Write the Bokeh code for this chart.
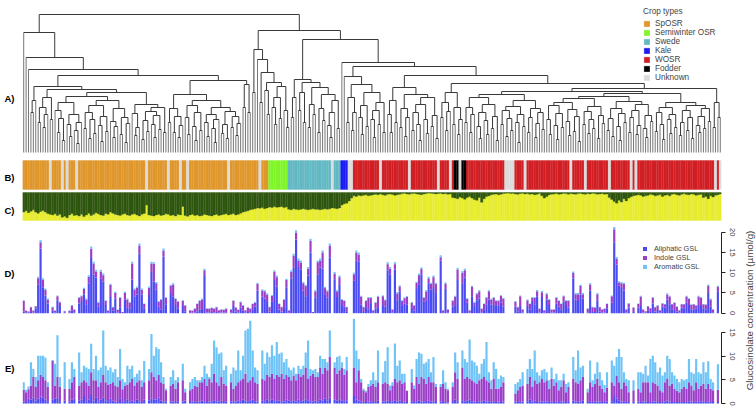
import math
import numpy as np
from bokeh.plotting import figure
from bokeh.models import (Range1d, LinearAxis, FixedTicker, Legend, LegendItem,
                          Label, ColumnDataSource)
from bokeh.layouts import column, row
from bokeh.embed import file_html
from bokeh.resources import INLINE

nan = float("nan")
N_ACC = 290
FONT = "Liberation Sans"

# ---------------- data ----------------
crop_types = ["SpOSR", "Semiwinter OSR", "Swede", "Kale", "WOSR", "Fodder", "Unknown"]
crop_colors = ["#E0972B", "#80F52A", "#63B9C3", "#1C1CF2", "#D11F24", "#000000", "#DCDCDC"]
crop_runs = [("SpOSR", 11), ("Unknown", 1), ("SpOSR", 4), ("Unknown", 1), ("SpOSR", 1),
             ("Unknown", 1), ("SpOSR", 3), ("Unknown", 1), ("SpOSR", 28), ("Unknown", 1),
             ("SpOSR", 8), ("Unknown", 1), ("SpOSR", 4), ("Unknown", 1), ("SpOSR", 2),
             ("Unknown", 1), ("SpOSR", 16), ("Unknown", 1), ("SpOSR", 12), ("Unknown", 1),
             ("SpOSR", 3), ("Semiwinter OSR", 8), ("Swede", 18), ("Unknown", 1), ("Swede", 3),
             ("Kale", 3), ("Unknown", 2), ("WOSR", 11), ("Unknown", 1), ("WOSR", 11),
             ("Unknown", 1), ("WOSR", 11), ("Unknown", 1), ("WOSR", 4), ("Unknown", 1),
             ("WOSR", 1), ("Fodder", 2), ("Unknown", 1), ("Fodder", 2), ("WOSR", 16),
             ("Unknown", 4), ("WOSR", 4), ("Unknown", 1), ("WOSR", 18), ("Unknown", 1),
             ("WOSR", 5), ("Unknown", 1), ("WOSR", 9), ("Unknown", 1), ("WOSR", 8),
             ("Unknown", 1), ("WOSR", 1), ("Unknown", 1), ("WOSR", 32), ("Unknown", 1),
             ("WOSR", 1), ("Unknown", 1)]

# dendrogram: merge height between neighbouring leaves i and i+1 (289 values)
merge_heights = [
    120, 95, 83, 40, 52, 66,
    30, 45, 25, 38, 55, 33,
    63,
    42, 20, 34, 12, 50, 28, 16, 38, 22, 9,
    30, 56, 24, 40, 14, 33, 19, 47, 27, 11,
    36, 21, 52, 31, 15, 26, 44, 18, 35, 10,
    29, 60, 39, 17, 25, 48, 13, 32, 21, 41,
    28, 15, 37, 23, 45, 20,
    77,
    30, 44, 20, 36, 15, 27,
    58,
    35, 18, 47, 26, 12, 40, 22, 52, 30, 16,
    38, 24, 10, 33, 45, 19, 28, 14, 41, 25,
    36, 17, 29,
    72,
    45, 68, 40,
    138,
    60, 103, 93, 50, 80,
    62, 38, 70, 45, 28, 55, 34, 66, 42, 25,
    122,
    35, 55, 73, 42, 60, 30, 70, 25, 48, 38,
    65, 20, 44, 32, 58, 27, 15, 40, 52, 24,
    113,
    90, 76,
    30, 55, 22, 40, 68, 35, 18, 47, 26, 60, 33, 15, 42, 28, 50, 20,
    86,
    38, 20, 52, 30, 65, 25, 44, 16, 35, 58, 22, 40, 28, 12, 48, 33, 19, 55, 26, 37, 14,
    77,
    35, 50, 22, 41, 60, 28, 45, 18, 33,
    69,
    30, 45, 20, 38, 55, 26, 14, 40, 32, 18, 48, 24, 36, 12, 58, 28, 42, 16, 34, 22,
    46, 30, 10, 38, 26, 52, 20, 35, 44, 15, 29, 40, 23, 61, 33, 18, 47, 27, 13, 39,
    25, 50, 31, 17, 43, 21, 36, 11, 54, 28, 41, 19, 33, 24, 46, 14, 37, 29, 56, 22,
    34, 16, 44, 26, 12, 39, 30, 51, 20, 35, 42, 18, 27, 48, 24, 15, 37, 31, 59, 21,
    40, 28, 13, 45, 33, 19, 38, 25, 50, 17, 30, 42, 22, 35, 14, 47, 27, 20, 36, 24,
    44, 31,
    64,
    25, 50, 35,
]

# structure (C): share of the yellow group
q_yellow = [
    0.30, 0.35, 0.28, 0.33, 0.38, 0.30, 0.26, 0.32, 0.36, 0.30, 0.25,
    0.22, 0.20, 0.24, 0.18, 0.22, 0.12, 0.15, 0.10, 0.20, 0.25, 0.18,
    0.20, 0.16, 0.22, 0.14, 0.20, 0.26, 0.18, 0.22, 0.28, 0.24, 0.20, 0.18, 0.25, 0.22, 0.30, 0.26, 0.22, 0.20, 0.18,
    0.22, 0.25, 0.20, 0.18, 0.22, 0.24, 0.20, 0.16, 0.22, 0.25, 0.55, 0.20, 0.18, 0.16, 0.20, 0.22, 0.18, 0.20, 0.24, 0.22,
    0.18, 0.20, 0.16, 0.22, 0.20, 0.50, 0.18, 0.15, 0.20, 0.22, 0.18, 0.20, 0.16, 0.18, 0.22, 0.20, 0.18, 0.16, 0.20, 0.22,
    0.18, 0.20, 0.22, 0.24, 0.20, 0.22, 0.25, 0.20, 0.22, 0.26, 0.30, 0.32, 0.35, 0.38, 0.40, 0.42, 0.45, 0.44, 0.46, 0.42, 0.45,
    0.48, 0.46, 0.50, 0.47, 0.48, 0.50, 0.46, 0.48,
    0.40, 0.38, 0.42, 0.40, 0.38, 0.40, 0.42, 0.40, 0.38, 0.40, 0.42, 0.40, 0.40, 0.38, 0.40, 0.42, 0.40, 0.42, 0.45, 0.44, 0.42, 0.45,
    0.55, 0.60, 0.62, 0.70, 0.80,
    0.88, 0.86, 0.90, 0.88, 0.90, 0.92, 0.88, 0.90, 0.92, 0.94, 0.92, 0.95,
    0.92, 0.90, 0.94, 0.95, 0.93, 0.90, 0.92, 0.94, 0.96, 0.97, 0.95, 0.94, 0.96, 0.97, 0.95, 0.94, 0.92, 0.95, 0.96, 0.98,
    0.97, 0.96, 0.95, 0.96, 0.97, 0.95, 0.96, 0.94,
    0.95, 0.82, 0.80, 0.78, 0.84, 0.80, 0.76, 0.82, 0.86, 0.80, 0.75, 0.72, 0.82, 0.65, 0.78, 0.86, 0.88, 0.92, 0.94, 0.95,
    0.92, 0.94, 0.96,
    0.97, 0.98, 0.96, 0.97, 0.95, 0.94, 0.96, 0.97, 0.95, 0.96, 0.94, 0.95, 0.92, 0.94, 0.96, 0.88, 0.80, 0.86, 0.92, 0.94,
    0.95, 0.96, 0.94, 0.95, 0.97, 0.96, 0.94,
    0.96, 0.95, 0.94, 0.96, 0.97, 0.95, 0.94, 0.96, 0.95, 0.97, 0.96, 0.94, 0.95, 0.96, 0.94, 0.95, 0.82, 0.75, 0.68, 0.62,
    0.72, 0.66, 0.78, 0.70, 0.80, 0.85, 0.88, 0.90,
    0.92, 0.90, 0.86, 0.88, 0.90, 0.94, 0.92, 0.88, 0.90, 0.93, 0.86, 0.90, 0.92, 0.88, 0.94, 0.95, 0.92, 0.90, 0.94, 0.96,
    0.93, 0.92, 0.95, 0.94, 0.90, 0.92, 0.94, 0.82, 0.86, 0.78, 0.88, 0.84, 0.90, 0.92, 0.95,
]

# D) glucosinolates, first tissue (umol/g)
d_aliphatic = [
    0.4, 0.1, 0.1, 0.3, 0.1, 1.2, 7.0, 16.0, 6.4, 4.3,
    2.4, nan, 0.6, 0.2, 3.2, 1.8, nan, 0.1, nan, 0.1,
    0.6, 0.2, nan, 2.4, 3.0, 4.6, 2.2, 7.4, 13.6, 9.5,
    8.8, 1.6, 8.5, 7.8, 2.0, 0.2, 4.0, 0.6, 3.6, 0.2,
    1.5, 0.0, 3.3, 1.5, 1.2, 8.3, 4.2, 4.6, 14.7, 4.6,
    1.2, nan, 4.5, 10.2, 7.8, 5.8, 1.6, 1.0, 14.0, 2.2,
    nan, 5.0, 4.2, 2.0, 1.1, nan, 1.8, 0.5, nan, 0.1,
    0.1, 0.2, 0.5, 1.0, 0.8, 9.2, 0.2, 0.2, 0.3, 0.2,
    0.3, 0.1, 0.2, 0.2, 0.2, nan, 0.2, 1.8, 0.4, 0.2,
    1.4, 0.6, 0.1, 0.3, 0.2, 0.8, 1.6, 5.6, nan, 4.1,
    3.6, 3.0, 0.4, 2.8, 8.2, 6.6, 0.9, 0.4, 1.5, 6.4,
    0.1, 8.6, 11.2, 18.2, 11.4, 10.8, 5.6, 4.2, 9.3, 15.0,
    0.0, 3.9, 9.6, 11.3, 11.0, 4.7, 3.8, 13.8, nan, 8.4,
    4.0, 7.0, 2.0, 1.6, 0.5, nan, nan, 8.0, 13.0, 12.8,
    2.2, 0.3, 1.5, 1.0, 2.5, 0.1, 1.2, 1.5, nan, 2.0,
    1.6, 10.6, 9.6, 0.2, 10.8, 3.2, 5.4, 2.0, 2.4, 2.2,
    nan, 1.3, 0.6, 6.2, 7.0, 9.6, 2.8, 3.2, 7.4, 5.8,
    6.2, 5.2, nan, 13.0, 0.1, 6.0, 0.2, nan, 1.6, 2.0,
    8.2, nan, 7.4, 8.8, 2.6, 0.1, 4.2, 1.8, 3.2, 3.6,
    0.2, 1.0, 2.2, 3.4, 2.2, 2.0, 2.0, 1.8, 2.6, 1.6,
    nan, nan, nan, nan, 1.6, 0.5, 1.8, 0.2, nan, 1.8,
    1.0, 3.0, 2.2, 4.2, 0.2, 4.0, 0.1, 3.4, 2.0, 0.2,
    0.2, 2.4, 1.6, 1.0, 2.8, 1.8, 1.4, nan, 8.6, 3.4,
    3.0, 4.6, 3.6, nan, 0.2, 5.6, 0.3, 0.3, 3.2, 0.4,
    0.2, 0.2, 1.2, nan, 2.6, 17.5, 12.0, 6.8, 6.2, 5.6,
    0.2, 1.4, nan, 0.3, nan, 1.4, 1.8, 0.2, 0.1, 0.6,
    0.3, 2.4, 0.4, 0.8, 0.1, 1.6, 1.4, 3.4, 2.2, 1.0,
    0.8, 0.4, 0.1, 1.4, 1.2, 2.6, 2.0, 1.0, 1.0, 1.2,
    2.0, 1.8, 1.2, 1.0, 5.0, 1.6, 0.2, nan, 5.4, nan,
]
d_indole = [
    2.7, 0.5, 0.3, 1.2, 0.5, 0.5, 1.6, 1.5, 1.8, 1.5,
    1.0, nan, 0.9, 0.4, 1.0, 0.9, nan, 0.4, nan, 0.5,
    1.3, 0.7, nan, 1.4, 1.2, 1.4, 1.2, 1.6, 2.3, 2.8,
    1.5, 1.0, 1.8, 1.6, 1.0, 0.4, 3.0, 0.9, 1.4, 0.6,
    2.3, 0.3, 1.7, 1.9, 1.4, 4.0, 1.6, 1.7, 2.0, 1.2,
    1.1, nan, 1.8, 2.1, 4.4, 1.6, 1.2, 2.3, 1.5, 1.6,
    nan, 1.7, 2.9, 1.5, 1.7, nan, 1.2, 1.4, nan, 0.6,
    0.5, 0.9, 1.8, 2.0, 2.6, 1.4, 0.9, 0.9, 1.0, 0.9,
    1.2, 0.6, 0.7, 0.6, 0.9, nan, 0.7, 1.2, 1.0, 0.6,
    1.3, 1.3, 0.6, 1.1, 0.9, 1.5, 1.0, 1.6, nan, 1.5,
    1.8, 1.6, 1.1, 1.5, 2.0, 2.3, 1.4, 1.1, 1.8, 1.8,
    0.6, 1.6, 3.0, 1.7, 1.6, 1.7, 1.8, 2.5, 1.7, 2.8,
    0.3, 1.5, 3.0, 1.7, 4.0, 1.5, 1.6, 2.9, nan, 1.4,
    1.4, 1.9, 1.3, 1.4, 1.0, nan, nan, 1.6, 2.0, 1.7,
    1.9, 1.2, 1.5, 2.8, 1.3, 0.6, 1.4, 2.6, nan, 2.2,
    1.6, 1.5, 1.4, 0.7, 1.3, 1.7, 1.2, 1.0, 1.3, 1.8,
    nan, 1.3, 1.3, 1.3, 2.4, 1.3, 1.0, 2.2, 1.2, 1.4,
    2.7, 2.0, nan, 0.8, 0.6, 1.3, 0.7, nan, 1.4, 2.1,
    2.6, nan, 2.6, 1.8, 0.9, 0.6, 2.3, 0.8, 1.5, 1.8,
    0.9, 1.3, 1.6, 2.0, 1.2, 1.8, 1.0, 1.2, 1.7, 2.0,
    nan, nan, nan, nan, 1.2, 1.0, 2.4, 0.7, nan, 1.4,
    1.3, 0.8, 1.6, 1.2, 0.9, 1.2, 0.6, 1.3, 1.3, 0.7,
    0.7, 1.4, 1.4, 1.3, 1.4, 1.2, 1.6, nan, 1.3, 1.3,
    1.7, 2.1, 1.1, nan, 0.9, 1.5, 1.2, 1.1, 1.5, 1.1,
    0.7, 0.9, 1.1, nan, 1.6, 3.2, 1.4, 0.8, 1.2, 1.6,
    0.7, 1.0, nan, 1.1, nan, 0.9, 2.3, 0.7, 0.4, 1.1,
    0.9, 1.4, 1.1, 1.1, 0.6, 0.8, 0.8, 1.2, 1.9, 1.2,
    1.8, 1.2, 0.6, 0.8, 1.0, 1.5, 1.5, 1.1, 1.2, 0.7,
    2.1, 2.0, 1.0, 1.1, 1.8, 1.8, 0.7, nan, 1.1, nan,
]
d_aromatic = [
    0.1, 0.1, 0.0, 0.1, 0.1, 0.1, 0.4, 0.5, 0.4, 0.3,
    0.2, nan, 0.1, 0.1, 0.2, 0.1, nan, 0.1, nan, 0.1,
    0.1, 0.1, nan, 0.2, 0.2, 0.3, 0.2, 0.4, 0.6, 0.4,
    0.4, 0.2, 0.4, 0.4, 0.2, 0.1, 0.3, 0.1, 0.3, 0.1,
    0.2, 0.0, 0.3, 0.2, 0.2, 0.4, 0.3, 0.3, 0.5, 0.3,
    0.1, nan, 0.3, 0.4, 0.4, 0.3, 0.2, 0.2, 0.5, 0.2,
    nan, 0.3, 0.3, 0.2, 0.2, nan, 0.2, 0.1, nan, 0.1,
    0.1, 0.1, 0.1, 0.2, 0.2, 0.4, 0.1, 0.1, 0.1, 0.1,
    0.1, 0.1, 0.1, 0.1, 0.1, nan, 0.1, 0.2, 0.1, 0.1,
    0.2, 0.1, 0.1, 0.1, 0.1, 0.1, 0.2, 0.3, nan, 0.3,
    0.3, 0.3, 0.1, 0.2, 0.4, 0.4, 0.1, 0.1, 0.2, 0.3,
    0.1, 0.4, 0.5, 0.6, 0.5, 0.5, 0.3, 0.3, 0.4, 0.6,
    0.0, 0.3, 0.4, 0.5, 0.5, 0.3, 0.3, 0.5, nan, 0.4,
    0.3, 0.4, 0.2, 0.2, 0.1, nan, nan, 0.4, 0.5, 0.5,
    0.2, 0.1, 0.2, 0.2, 0.2, 0.1, 0.2, 0.2, nan, 0.2,
    0.2, 0.5, 0.4, 0.1, 0.5, 0.3, 0.3, 0.2, 0.2, 0.2,
    nan, 0.2, 0.1, 0.3, 0.4, 0.4, 0.2, 0.3, 0.4, 0.3,
    0.4, 0.3, nan, 0.5, 0.1, 0.3, 0.1, nan, 0.2, 0.2,
    0.4, nan, 0.4, 0.4, 0.2, 0.1, 0.3, 0.2, 0.3, 0.3,
    0.1, 0.1, 0.2, 0.3, 0.2, 0.2, 0.2, 0.2, 0.2, 0.2,
    nan, nan, nan, nan, 0.2, 0.1, 0.2, 0.1, nan, 0.2,
    0.1, 0.2, 0.2, 0.3, 0.1, 0.3, 0.1, 0.3, 0.2, 0.1,
    0.1, 0.2, 0.2, 0.1, 0.2, 0.2, 0.2, nan, 0.4, 0.3,
    0.3, 0.3, 0.3, nan, 0.1, 0.3, 0.1, 0.1, 0.3, 0.1,
    0.1, 0.1, 0.1, nan, 0.2, 0.6, 0.5, 0.3, 0.3, 0.3,
    0.1, 0.1, nan, 0.1, nan, 0.1, 0.2, 0.1, 0.0, 0.1,
    0.1, 0.2, 0.1, 0.1, 0.1, 0.1, 0.1, 0.3, 0.2, 0.1,
    0.1, 0.1, 0.1, 0.1, 0.1, 0.2, 0.2, 0.1, 0.1, 0.1,
    0.2, 0.2, 0.1, 0.1, 0.3, 0.2, 0.1, nan, 0.3, nan,
]

# E) glucosinolates, second tissue (umol/g)
e_aliphatic = [
    0.4, 0.3, 1.0, 0.8, 1.2, 0.6, 1.0, 1.5, 1.2, 0.8,
    0.5, nan, 0.8, 1.0, 1.2, 0.5, nan, 0.6, nan, 0.4,
    0.8, 1.0, nan, 0.6, 0.8, 1.6, 0.5, 0.9, 1.8, 0.6,
    1.3, 0.4, 0.8, 1.2, 0.7, 0.5, 1.0, 0.6, 0.4, 0.3,
    1.1, 0.3, 0.5, 0.9, 0.5, 0.6, 0.4, 0.8, 0.5, 0.3,
    0.8, nan, 0.7, 1.0, 0.9, 0.8, 1.2, 0.6, 0.5, 0.4,
    nan, 0.5, 0.4, 0.3, 0.5, nan, 0.4, 0.6, nan, 0.3,
    0.4, 0.5, 0.3, 0.4, 0.6, 0.5, 0.3, 0.4, 0.5, 0.7,
    0.5, 0.4, 0.6, 0.3, 0.5, nan, 0.4, 0.5, 0.4, 0.6,
    0.5, 0.8, 0.6, 0.5, 0.7, 0.8, 0.5, 0.4, nan, 0.6,
    0.5, 0.9, 0.6, 0.8, 0.5, 0.7, 0.6, 0.5, 0.4, 0.8,
    0.6, 0.5, 0.7, 0.4, 0.8, 0.5, 0.6, 0.9, 0.7, 0.5,
    0.4, 0.6, 0.5, 0.8, 0.6, 1.0, 0.7, 1.2, nan, 0.8,
    0.6, 0.9, 0.6, 0.5, 0.7, nan, nan, 1.6, 0.8, 0.6,
    0.4, 0.3, 0.3, 0.4, 0.5, 0.3, 0.3, 0.6, nan, 0.4,
    0.5, 0.6, 0.3, 0.5, 0.7, 0.4, 0.6, 0.3, 0.4, 0.3,
    nan, 0.5, 0.3, 0.5, 0.6, 0.4, 0.5, 0.3, 0.6, 0.4,
    0.5, 0.3, nan, 0.4, 0.3, 0.3, 0.2, nan, 0.3, 0.8,
    0.5, nan, 0.7, 0.5, 0.6, 0.8, 0.5, 0.4, 0.3, 0.5,
    0.4, 0.6, 0.5, 0.4, 0.3, 0.5, 0.3, 0.4, 0.3, 0.4,
    nan, nan, nan, nan, 0.4, 0.3, 0.5, 0.4, nan, 0.5,
    0.8, 0.4, 0.6, 0.3, 0.5, 0.4, 0.5, 0.4, 0.3, 0.5,
    0.3, 0.4, 0.3, 0.4, 0.5, 0.3, 0.3, nan, 0.6, 0.4,
    0.5, 0.4, 0.6, nan, 0.3, 0.5, 0.3, 0.4, 0.5, 0.4,
    0.3, 0.3, 0.4, nan, 0.5, 1.6, 1.0, 0.6, 0.4, 0.5,
    0.3, 0.3, nan, 0.3, nan, 0.4, 0.3, 0.4, 0.5, 0.3,
    0.3, 0.5, 0.4, 0.3, 0.3, 0.3, 0.4, 0.6, 0.4, 0.3,
    0.3, 0.3, 0.3, 0.3, 0.3, 0.3, 0.5, 0.4, 0.3, 0.5,
    0.3, 0.4, 0.5, 0.3, 0.4, 0.3, 0.3, nan, 0.3, nan,
]
e_indole = [
    2.5, 2.1, 2.0, 3.0, 4.4, 2.9, 3.9, 4.5, 4.4, 4.1,
    3.0, nan, 8.2, 2.8, 4.4, 3.0, nan, 2.5, nan, 2.7,
    3.7, 4.6, nan, 3.2, 3.7, 3.3, 4.0, 2.9, 4.8, 4.3,
    3.6, 3.1, 3.7, 4.8, 3.8, 3.5, 3.1, 3.9, 3.4, 3.2,
    3.8, 2.7, 3.3, 3.1, 4.0, 4.6, 3.4, 3.7, 4.4, 3.2,
    3.7, nan, 4.2, 5.6, 4.7, 4.1, 4.8, 3.9, 3.6, 2.4,
    nan, 3.3, 3.7, 2.8, 4.0, nan, 4.5, 1.8, nan, 2.5,
    2.7, 3.3, 3.2, 4.1, 3.9, 4.7, 3.5, 4.8, 4.0, 5.6,
    4.0, 3.4, 5.0, 3.8, 3.3, nan, 4.1, 2.6, 3.4, 3.9,
    4.4, 4.4, 5.7, 4.0, 4.2, 4.8, 4.0, 3.7, nan, 4.6,
    4.4, 5.1, 5.0, 5.5, 4.7, 5.3, 5.0, 5.8, 4.8, 5.2,
    5.0, 4.4, 5.2, 4.5, 5.5, 5.1, 5.4, 6.7, 4.5, 5.4,
    5.9, 5.0, 5.1, 6.8, 5.7, 6.6, 6.3, 8.6, nan, 6.8,
    5.7, 6.1, 7.0, 5.5, 6.3, nan, nan, 6.0, 3.7, 6.4,
    4.1, 2.5, 2.1, 3.1, 3.3, 3.8, 3.2, 3.9, nan, 3.7,
    4.0, 3.5, 2.5, 3.3, 4.5, 4.1, 4.3, 3.8, 4.1, 2.4,
    nan, 4.0, 2.8, 5.1, 3.5, 5.2, 4.7, 3.8, 5.0, 4.1,
    4.0, 3.2, nan, 3.1, 3.8, 2.8, 2.6, nan, 3.2, 5.8,
    4.7, nan, 6.9, 4.7, 5.0, 4.4, 4.4, 4.1, 3.8, 4.4,
    4.8, 5.0, 4.4, 4.1, 2.8, 4.7, 2.8, 2.7, 3.2, 4.1,
    nan, nan, nan, nan, 1.7, 2.5, 3.0, 3.4, nan, 3.6,
    4.8, 3.1, 4.3, 3.8, 4.0, 4.8, 4.0, 4.5, 2.8, 4.7,
    3.5, 4.1, 2.5, 3.1, 4.4, 2.1, 3.2, nan, 4.6, 4.1,
    3.6, 4.5, 5.0, nan, 2.1, 4.0, 3.2, 3.7, 4.7, 3.4,
    2.8, 2.1, 3.0, nan, 4.0, 2.2, 4.9, 3.9, 2.7, 4.0,
    3.5, 2.1, nan, 2.5, nan, 2.7, 2.1, 4.1, 4.0, 4.2,
    2.1, 4.0, 3.8, 3.5, 2.5, 2.1, 4.1, 4.6, 3.4, 3.9,
    2.8, 2.4, 2.1, 2.8, 3.2, 2.8, 4.0, 3.4, 2.5, 4.0,
    2.8, 3.4, 3.6, 2.8, 3.7, 2.8, 2.5, nan, 2.6, nan,
]
e_aromatic = [
    1.6, 0.5, 0.6, 4.9, 1.7, 2.1, 5.2, 4.1, 4.5, 4.8,
    1.0, nan, 0.2, 4.6, 8.8, 2.1, nan, 5.6, nan, 2.1,
    4.2, 1.7, nan, 7.0, 2.1, 3.1, 3.1, 3.5, 6.0, 2.4,
    5.2, 3.5, 3.1, 9.4, 3.5, 3.0, 3.5, 2.1, 3.5, 2.1,
    6.6, 2.2, 0.7, 4.0, 2.8, 2.8, 1.8, 1.8, 2.1, 1.4,
    4.5, nan, 2.4, 8.1, 4.5, 7.0, 5.5, 4.2, 1.5, 0.3,
    nan, 1.8, 2.9, 1.8, 1.1, nan, 3.5, 0.7, nan, 1.7,
    2.1, 1.8, 1.4, 0.4, 1.1, 2.8, 2.5, 0.4, 3.9, 7.0,
    7.4, 6.7, 5.2, 2.9, 4.2, nan, 1.8, 4.5, 3.2, 6.7,
    2.1, 4.9, 9.1, 11.3, 12.6, 5.6, 3.1, 2.9, nan, 6.0,
    3.5, 4.8, 4.2, 6.0, 4.9, 7.0, 4.9, 4.5, 3.5, 3.4,
    2.0, 2.1, 1.7, 1.4, 1.7, 1.7, 2.0, 3.2, 8.1, 1.4,
    0.7, 1.7, 1.0, 2.5, 3.1, 1.8, 1.7, 5.6, nan, 1.1,
    3.5, 3.1, 1.1, 1.3, 2.8, nan, nan, 10.3, 6.7, 2.4,
    0.7, 0.3, 0.3, 0.6, 1.1, 2.5, 1.4, 6.7, nan, 2.5,
    4.5, 7.8, 1.0, 0.7, 7.5, 3.5, 4.2, 2.2, 1.8, 0.0,
    nan, 2.8, 0.7, 3.8, 6.7, 4.9, 3.2, 4.6, 3.8, 2.1,
    5.3, 0.6, nan, 0.6, 2.9, 1.4, 0.3, nan, 1.0, 4.2,
    3.5, nan, 3.6, 4.2, 3.1, 8.3, 4.2, 4.2, 3.9, 1.4,
    3.2, 3.8, 8.1, 2.1, 1.8, 3.5, 4.2, 2.1, 2.4, 1.1,
    nan, nan, nan, nan, 2.0, 1.7, 1.7, 2.8, nan, 3.2,
    3.8, 3.8, 6.3, 2.5, 1.4, 1.8, 2.8, 1.7, 1.8, 2.4,
    1.4, 1.8, 2.1, 1.4, 1.4, 1.7, 1.0, nan, 4.6, 2.5,
    7.1, 2.7, 2.4, nan, 0.7, 4.6, 1.4, 2.2, 3.5, 2.8,
    1.8, 1.5, 3.2, nan, 4.6, 4.2, 3.9, 7.0, 6.7, 2.1,
    1.4, 2.5, nan, 2.1, nan, 3.5, 4.2, 1.8, 3.5, 1.4,
    7.0, 5.6, 4.5, 2.8, 4.8, 3.5, 2.1, 4.9, 5.6, 2.4,
    2.8, 2.5, 2.1, 2.1, 1.4, 2.1, 4.9, 2.8, 3.5, 4.9,
    3.5, 2.5, 4.6, 3.5, 4.8, 2.1, 1.7, nan, 5.4, nan,
]

gsl_labels = ["Aliphatic GSL", "Indole GSL", "Aromatic GSL"]
gsl_colors = ["#4B4BF5", "#9B3EC8", "#6EC3F7"]
struct_colors = ["#E7EC2F", "#2E560F"]   # yellow (bottom), dark green (top)
d_ticks = [0, 5, 10, 15, 20]
e_ticks = [0, 5, 10, 15]
y_label = "Glucosinolate concentration (\u00b5mol/g)"


# ---------------- helpers ----------------
def fit(a):
    a = [float(v) for v in list(a)[:N_ACC]]
    return np.array(a + [nan] * (N_ACC - len(a)))


def band_range(top_px, bottom_px, fig_h, v_top, v_bottom):
    scale = (bottom_px - top_px) / (v_top - v_bottom)
    return Range1d(start=v_bottom - (fig_h - bottom_px) / scale,
                   end=v_top + top_px / scale)


W = 756
FRAME_L = 22
FRAME_R = 721
TOP_H = 224
D_H = 94
E_H = 90
LAB_W = 15

x_range = Range1d(-0.5, N_ACC - 0.5)


def base_fig(width, height, y_range, right_border):
    p = figure(width=width, height=height, x_range=x_range, y_range=y_range,
               output_backend="svg", toolbar_location=None,
               x_axis_location=None, y_axis_location=None,
               min_border_left=FRAME_L, min_border_right=right_border,
               min_border_top=0, min_border_bottom=0,
               outline_line_color=None, background_fill_color="white",
               border_fill_color="white")
    p.grid.visible = False
    return p


def panel_axis(p, positions, texts, range_name="default"):
    ax = LinearAxis(y_range_name=range_name, ticker=FixedTicker(ticks=positions),
                    major_label_overrides={pos: t for pos, t in zip(positions, texts)},
                    axis_line_color=None, major_tick_line_color=None,
                    minor_tick_line_color=None, major_tick_out=0, major_tick_in=0,
                    major_label_standoff=8, major_label_text_font=FONT,
                    major_label_text_font_style="bold", major_label_text_font_size="9.5px",
                    major_label_text_color="black")
    p.add_layout(ax, "left")


xs = np.arange(N_ACC)

# ---------------- top: dendrogram, crop types, structure ----------------
H = [float(h) for h in merge_heights]
pT = base_fig(W, TOP_H, band_range(14.0, 152.0, TOP_H, max(H), 0.0), W - FRAME_R)
pT.extra_y_ranges = {"B": band_range(160.0, 189.0, TOP_H, 1.0, 0.0),
                     "C": band_range(192.0, 220.0, TOP_H, 1.0, 0.0)}

seg = {"x0": [], "y0": [], "x1": [], "y1": []}
leaf_seg = {"x0": [], "y0": [], "x1": [], "y1": []}


def add(d, a, b, c, e):
    d["x0"].append(a); d["y0"].append(b); d["x1"].append(c); d["y1"].append(e)


def build(lo, hi):
    if lo == hi:
        return float(lo), 0.0
    k = lo + int(np.argmax(H[lo:hi]))
    h = H[k]
    xl, hl = build(lo, k)
    xr, hr = build(k + 1, hi)
    add(leaf_seg if hl == 0 else seg, xl, hl, xl, h)
    add(leaf_seg if hr == 0 else seg, xr, hr, xr, h)
    add(seg, xl, h, xr, h)
    return (xl + xr) / 2.0, h


build(0, min(len(H), N_ACC - 1))
pT.segment(x0="x0", y0="y0", x1="x1", y1="y1", source=ColumnDataSource(leaf_seg),
           line_color="#777777", line_width=1)
pT.segment(x0="x0", y0="y0", x1="x1", y1="y1", source=ColumnDataSource(seg),
           line_color="#3a3a3a", line_width=1)

crop_list = []
for t, n in crop_runs:
    crop_list += [t] * n
crop_list = (crop_list + ["Unknown"] * N_ACC)[:N_ACC]

rB = {}
for t, col in zip(crop_types, crop_colors):
    idx = [i for i, c in enumerate(crop_list) if c == t]
    rB[t] = pT.vbar(x=idx, bottom=0, top=1, width=1.0, fill_color=col,
                    line_color=col, line_width=0.3, y_range_name="B")

qy = fit(q_yellow)
srcC = ColumnDataSource(dict(x=xs, yel=qy, grn=1.0 - qy))
pT.vbar_stack(["yel", "grn"], x="x", width=1.0, source=srcC, fill_color=struct_colors,
              line_color=struct_colors, line_width=0.3, y_range_name="C")

leg1 = Legend(items=[LegendItem(label=t, renderers=[rB[t]]) for t in crop_types],
              location=(621, 142), title="Crop types", title_text_font=FONT,
              title_text_font_size="8.2px", title_text_font_style="normal",
              title_standoff=3, label_text_font=FONT, label_text_font_size="8.2px",
              glyph_width=7, glyph_height=7, label_height=9, label_standoff=5,
              spacing=0, padding=0, margin=0, border_line_color=None,
              background_fill_alpha=0)
pT.add_layout(leg1)

# panel letters A) B) C): placed in dendrogram units on a bare left axis
panel_axis(pT, [54.5, -24.7, -58.0], ["A)", "B)", "C)"])


# ---------------- D and E ----------------
def gsl_fig(height, top_px, bottom_px, vmax, ticks, a, i, r):
    p = base_fig(W - LAB_W, height, band_range(top_px, bottom_px, height, vmax, 0.0),
                 W - LAB_W - FRAME_R)
    src = ColumnDataSource(dict(x=xs, ali=fit(a), ind=fit(i), aro=fit(r)))
    rs = p.vbar_stack(["ali", "ind", "aro"], x="x", width=0.9, source=src,
                      fill_color=gsl_colors, line_color=None)
    ax = LinearAxis(ticker=FixedTicker(ticks=ticks), bounds=(0, vmax),
                    major_label_orientation="vertical", major_label_text_font=FONT,
                    major_label_text_font_size="7.5px", major_tick_out=4, major_tick_in=0,
                    minor_tick_line_color=None, major_label_standoff=4,
                    axis_line_color="#222222", major_tick_line_color="#222222")
    p.add_layout(ax, "right")
    return p, rs


pD, rD = gsl_fig(D_H, 7.7, 88.7, 20, d_ticks, d_aliphatic, d_indole, d_aromatic)
pE, rE = gsl_fig(E_H, 14.0, 85.0, 15, e_ticks, e_aliphatic, e_indole, e_aromatic)

leg2 = Legend(items=[LegendItem(label=l, renderers=[r]) for l, r in zip(gsl_labels, rD)],
              location=(620, 47), label_text_font=FONT, label_text_font_size="7.3px",
              glyph_width=5, glyph_height=5, label_height=8, label_standoff=7,
              spacing=0, padding=0, margin=0, border_line_color=None,
              background_fill_alpha=0)
pD.add_layout(leg2)
panel_axis(pD, [9.9], ["D)"])
panel_axis(pE, [7.5], ["E)"])

# shared axis title
pL = figure(width=LAB_W, height=D_H + E_H, x_range=Range1d(0, LAB_W),
            y_range=Range1d(0, D_H + E_H), output_backend="svg", toolbar_location=None,
            x_axis_location=None, y_axis_location=None, min_border=0,
            outline_line_color=None, border_fill_color="white")
pL.grid.visible = False
pL.add_layout(Label(x=7.5, y=98.0, text=y_label, angle=math.pi / 2, text_font=FONT,
                    text_font_size="9.8px", text_align="center", text_baseline="middle"))

layout = column(pT, row(column(pD, pE), pL))
open("out.html", "w").write(file_html(layout, INLINE))
